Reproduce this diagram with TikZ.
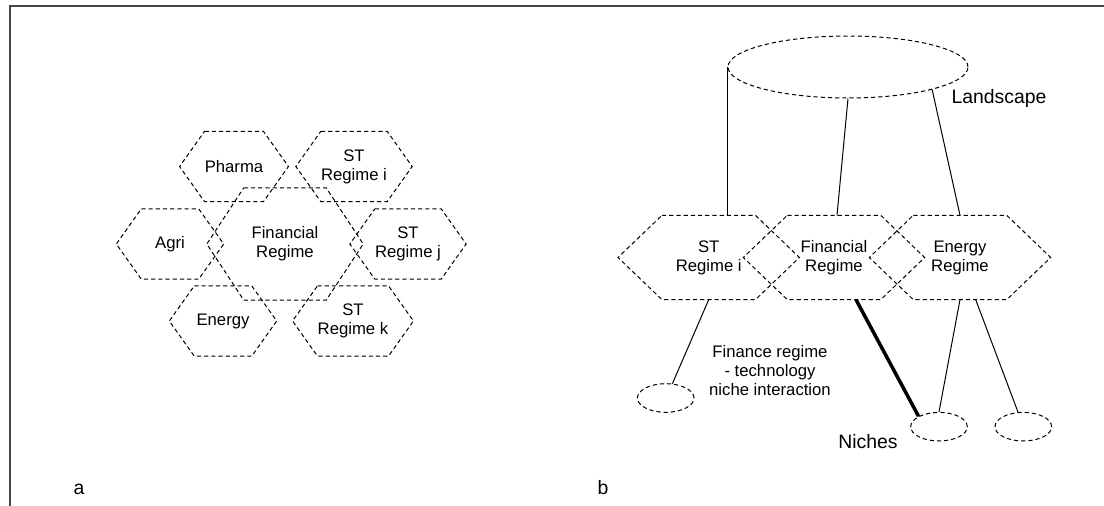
\documentclass[tikz,border=0pt]{standalone}
\usepackage{fontspec}
\setmainfont{Liberation Sans}
\usetikzlibrary{shapes.geometric}
\begin{document}
\begin{tikzpicture}[x=1pt,y=-1pt,
  dsh/.style={dash pattern=on 4.2pt off 3pt, line width=1pt},
  hexa/.style={minimum width=57pt, minimum height=70pt, inner sep=0pt, align=center, font=\fontsize{16.7}{19}\selectfont},
  hexfin/.style={hexa, minimum width=82pt, minimum height=112pt},
  hexb/.style={hexa, minimum width=93pt, minimum height=84pt},
  niche/.style={ellipse, draw, dsh, minimum width=56.6pt, minimum height=28.6pt, inner sep=0pt},
  lbl/.style={font=\fontsize{19.4}{22}\selectfont, inner sep=0pt},
  txt/.style={font=\fontsize{16.7}{19}\selectfont, align=center, inner sep=0pt},
  conn/.style={line width=1pt}
]
\useasboundingbox (0,0) rectangle (1104,506);
\draw[line width=2pt, color=black!72] (10,506) -- (10,5.5) -- (1104,5.5);

% ---- panel a ----
\node[hexa] (pharma) at (234,166.5) {Pharma};
\node[hexa] (sti) at (354,166.5) {ST\\Regime i};
\node[hexa] (agri) at (170,244) {Agri};
\node[hexfin] (fin) at (285,244) {Financial\\Regime};
\node[hexa] (stj) at (408,244) {ST\\Regime j};
\node[hexa] (energy) at (223,321) {Energy};
\node[hexa] (stk) at (353,321) {ST\\Regime k};
\foreach \n/\s in {pharma/25,sti/25,agri/25,fin/37,stj/25,energy/25,stk/25}
  \draw[dsh] (\n.north west) -- (\n.north east) -- ([xshift=\s pt]\n.east) -- (\n.south east) -- (\n.south west) -- ([xshift=-\s pt]\n.west) -- cycle;
\node[lbl, anchor=base] (la) at (79,494) {a};

% ---- panel b ----
\node[ellipse, draw, dsh, minimum width=240pt, minimum height=62pt, inner sep=0pt] (land) at (848,67) {};
\node[lbl] (landlbl) at (999,98) {Landscape};
\node[hexb] (bsti) at (708.7,257.5) {ST\\Regime i};
\node[hexb] (bfin) at (834,257.5) {Financial\\Regime};
\node[hexb] (ben) at (960,257.5) {Energy\\Regime};
\foreach \n in {bsti,bfin,ben}
  \draw[dsh] (\n.north west) -- (\n.north east) -- ([xshift=44pt]\n.east) -- (\n.south east) -- (\n.south west) -- ([xshift=-44pt]\n.west) -- cycle;

\node[niche] (n0) at (665.7,398) {};
\node[niche] (n1) at (939,426.7) {};
\node[niche] (n2) at (1023.3,426.7) {};

\draw[conn] (land.west) -- (land.west |- bsti.north);
\draw[conn] (land.south) -- ([xshift=3pt]bfin.north);
\draw[conn] (land.-15) -- (ben.north);
\draw[conn] (bsti.south) -- (n0.65);
\draw[line width=3.5pt] ([xshift=22pt]bfin.south) -- (n1.153);
\draw[conn] (ben.south) -- (n1.north);
\draw[conn] ([xshift=15.7pt]ben.south) -- (n2.110);

\node[txt] (interact) at (770,371) {Finance regime\\- technology\\niche interaction};
\node[lbl] (nichelbl) at (868,442) {Niches};
\node[lbl, anchor=base] (lb) at (603,494) {b};
\end{tikzpicture}
\end{document}
